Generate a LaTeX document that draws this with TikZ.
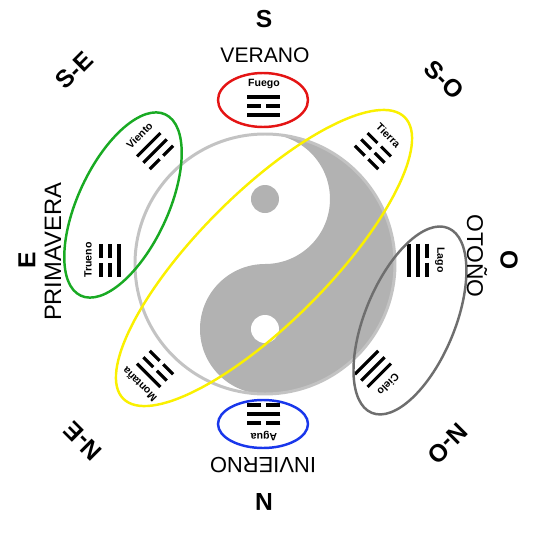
\documentclass[tikz,border=0pt]{standalone}
\usepackage{fontspec}
\setmainfont{Liberation Sans}
\usepackage{xcolor}
\usetikzlibrary{math}

\definecolor{yinfill}{RGB}{178,178,178}
\definecolor{yinring}{RGB}{195,195,195}
\definecolor{fuego}{RGB}{228,20,20}
\definecolor{agua}{RGB}{25,55,235}
\definecolor{viento}{RGB}{25,170,35}
\definecolor{tierra}{RGB}{250,240,0}
\definecolor{cielo}{RGB}{110,110,110}

\tikzset{
  yao/.style={line width=1.8pt},
  trilabel/.style={font=\fontsize{6}{6}\selectfont\bfseries, inner sep=0pt},
  season/.style={font=\fontsize{12}{12}\selectfont, inner sep=0pt},
  compass/.style={font=\fontsize{14}{14}\selectfont\bfseries, inner sep=0pt},
  ring/.style={line width=1.4pt},
}

% #1 angle, #2 node name, #3 label, #4 #5 #6 lines from outside in (1 solid, 0 broken)
\newcommand{\gua}[6]{%
  \begin{scope}[rotate=#1-90]
    \node[trilabel, rotate=#1-90] (#2) at (0,176) {#3};
    \foreach \ry/\yy in {163/#4, 154/#5, 145/#6}{
      \ifnum\yy=1
        \draw[yao] (-16.5,\ry) -- (16.5,\ry);
      \else
        \draw[yao] (-16.5,\ry) -- (-2.5,\ry) (2.5,\ry) -- (16.5,\ry);
      \fi
    }
  \end{scope}
}

\begin{document}
\begin{tikzpicture}[scale=0.02]
\tikzmath{
\R=130;
\rh=\R/2;
\rd=14;
}
\useasboundingbox (-264,-280) rectangle (276,260);

% yin-yang
\begin{scope}[shift={(1,-4)}]
\fill[yinfill] (0,\R) arc (90:-90:\R) arc (-90:-270:\rh) arc (-90:90:\rh) -- cycle;
\fill[yinfill] (0,\rh) circle (\rd);
\fill[white] (0,-\rh) circle (\rd);
\draw[yinring, line width=1.7pt] (0,0) circle (\R);
\end{scope}

% trigrams
\gua{90}{fuego}{Fuego}{1}{0}{1}
\gua{45}{tierra}{Tierra}{0}{0}{0}
\gua{0}{lago}{Lago}{0}{1}{1}
\gua{-45}{cielo}{Cielo}{1}{1}{1}
\gua{-90}{agua}{Agua}{0}{1}{0}
\gua{-135}{montana}{Montaña}{1}{0}{0}
\gua{180}{trueno}{Trueno}{0}{0}{1}
\gua{135}{viento}{Viento}{1}{1}{0}

% seasons
\draw[ring, fuego] (-1,160) ellipse (45 and 27);
\draw[ring, agua] (-1,-164) ellipse (45 and 24);
\draw[ring, viento] (-141,55) ellipse [x radius=100, y radius=45, rotate=65];
\draw[ring, cielo] (-22.5:158) ellipse [x radius=100, y radius=45, rotate=67.5];
\draw[ring, tierra] (0,2) ellipse [x radius=199, y radius=65, rotate=45];

\node[season] (verano) at (1,205) {VERANO};
\node[season, font=\fontsize{12.5}{12.5}\selectfont, rotate=180] (invierno) at (-1,-205) {INVIERNO};
\node[season, font=\fontsize{13.5}{13.5}\selectfont, rotate=90] (primavera) at (-211,8) {PRIMAVERA};
\node[season, font=\fontsize{13}{13}\selectfont, rotate=-90] (otono) at (213,4) {OTOÑO};

% compass
\foreach \a/\t/\d in {90/S/241, 45/S-O/255, 0/O/245, -45/N-O/260,
                      -90/N/242, -135/N-E/256, 180/E/237, 135/S-E/268}
  \node[compass, rotate=\a-90] (\t) at (\a:\d) {\t};

\end{tikzpicture}
\end{document}
